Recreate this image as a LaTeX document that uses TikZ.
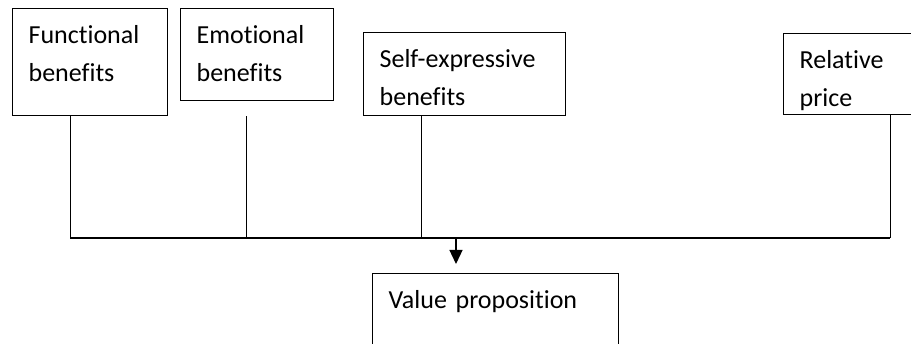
\documentclass[tikz,border=0pt]{standalone}
\usepackage{fontspec}
\setmainfont[Ligatures=NoCommon]{Carlito}
\usetikzlibrary{arrows.meta}

\begin{document}
\begin{tikzpicture}[x=1pt, y=-1pt, >={Triangle[width=13pt,length=14pt]},
  every node/.style={font=\fontsize{26}{38}\selectfont},
  benefit/.style={draw, line width=1.3pt, anchor=north west, align=left, inner xsep=16pt, inner ysep=0pt, text height=35pt},
  feeder/.style={line width=0.9pt}]
  \clip (0,0) rectangle (911,344);
  \node[benefit, text width=123pt, text depth=72pt] (func) at (12,8) {Functional\\ benefits};
  \node[benefit, text width=121pt, text depth=57pt] (emo) at (180,8) {Emotional\\ benefits};
  \node[benefit, text width=170pt, text depth=48pt] (self) at (363,32) {Self-expressive\\ benefits};
  \node[benefit, text width=154pt, text depth=46pt] (price) at (783,33) {Relative\\ price};
  \node[benefit, text width=214pt, text depth=80pt] (val) at (372,273) {Value proposition};
  % joints on the bus line
  \coordinate (j1) at (70,238);
  \coordinate (j2) at (246,238);
  \coordinate (j3) at (421,238);
  \coordinate (j4) at (890,238);
  \coordinate (jv) at (456,238);
  \draw[feeder] (func.south -| j1) -- (j1);
  \draw[feeder, shorten <=15pt] (emo.south -| j2) -- (j2);
  \draw[feeder] (self.south -| j3) -- (j3);
  \draw[feeder] (price.south -| j4) -- (j4);
  \draw[line width=1.6pt] (j1) -- (j4);
  \draw[->, line width=1.3pt, shorten >=9pt] (jv) -- (val.north -| jv);
\end{tikzpicture}
\end{document}
